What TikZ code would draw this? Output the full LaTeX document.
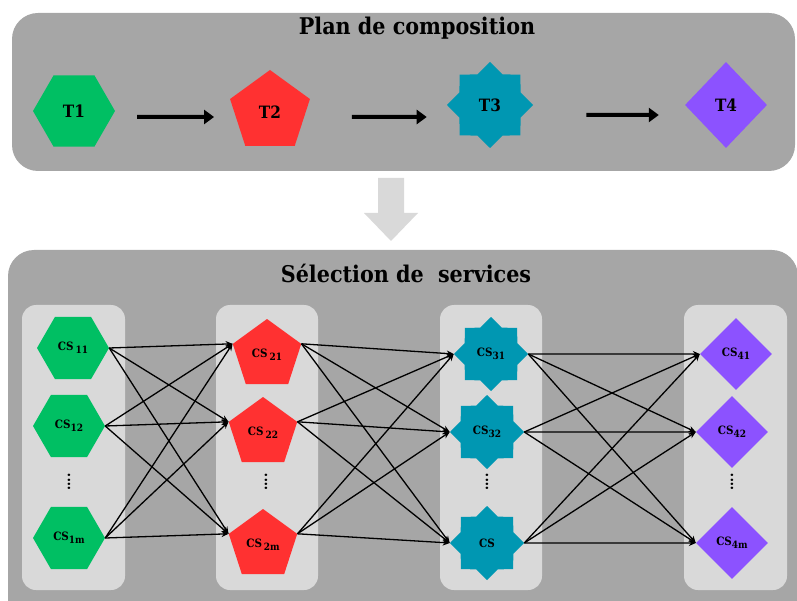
\documentclass[tikz,border=0pt]{standalone}
\usepackage{fontspec}
\setmainfont{DejaVu Serif Condensed}
\usetikzlibrary{shapes.geometric,arrows.meta}
\definecolor{fondgris}{RGB}{166,166,166}
\definecolor{colgris}{RGB}{217,217,217}
\definecolor{svert}{RGB}{0,191,99}
\definecolor{srouge}{RGB}{255,49,49}
\definecolor{sbleu}{RGB}{0,151,178}
\definecolor{sviolet}{RGB}{140,82,255}
\newcommand{\indice}[1]{\raisebox{-3pt}{\fontsize{10}{11}\selectfont #1}}

\begin{document}
\begin{tikzpicture}[x=1pt,y=-1pt,
  panneau/.style={fill=fondgris,rounded corners=26pt},
  colonne/.style={fill=colgris,rounded corners=14pt},
  titre/.style={font=\fontsize{23}{26}\selectfont\bfseries},
  hexa/.style={regular polygon,regular polygon sides=6,fill=svert,inner sep=0pt},
  penta/.style={regular polygon,regular polygon sides=5,fill=srouge,inner sep=0pt},
  etoile/.style={star,star points=8,star point ratio=1.3,fill=sbleu,inner sep=0pt},
  losange/.style={diamond,fill=sviolet,inner sep=0pt},
  tache/.style={font=\fontsize{17}{20}\selectfont\bfseries},
  service/.style={font=\fontsize{11.5}{13}\selectfont\bfseries},
  points/.style={rotate=90,font=\fontsize{14}{14}\selectfont\bfseries},
  fleche/.style={line width=4pt,-{Triangle[length=10pt,width=14pt]}},
  lien/.style={line width=1.3pt,-{Stealth[length=7pt,width=6pt]}}]
\useasboundingbox (0,0) rectangle (797,601);

% plan de composition
\fill[panneau] (12,13) rectangle (795,171);
\node[titre] (plan) at (417,28) {Plan de composition};
\node[hexa,tache,minimum size=82pt] (t1) at (74,111) {T1};
\node[penta,tache,minimum size=84pt] (t2) at (270,112) {T2};
\node[etoile,tache,minimum size=86pt] (t3) at (490,105) {T3};
\node[losange,tache,minimum width=82pt,minimum height=86pt] (t4) at (726,105) {T4};
\draw[fleche] ([shift={(22,6)}]t1.east) -- ([shift={(-20,5)}]t2.west);
\draw[fleche] ([shift={(46,5)}]t2.east) -- ([shift={(-20,12)}]t3.west);
\draw[fleche] ([shift={(53,10)}]t3.east) -- ([shift={(-26,10)}]t4.west);

% fleche vers la selection
\fill[colgris] (378,178) -- (404,178) -- (404,213) -- (418,213) -- (391,241)
  -- (364,213) -- (378,213) -- cycle;

% selection de services
\fill[panneau] (8,250) rectangle (798,640);
\node[titre] (selection) at (406,273) {Sélection de\ \ services};
\fill[colonne] (22,305) rectangle (125,590);
\fill[colonne] (216,305) rectangle (318,590);
\fill[colonne] (440,305) rectangle (542,590);
\fill[colonne] (684,305) rectangle (787,590);

\node[hexa,service,minimum size=72pt] (cs11) at (73,348) {CS\,\indice{11}};
\node[hexa,service,minimum size=72pt] (cs12) at (69,426) {CS\indice{12}};
\node[hexa,service,minimum size=72pt] (cs1m) at (69,538) {CS\indice{1m}};
\node[points] (d1) at (69,482) {....};

\node[penta,service,minimum size=72pt] (cs21) at (267,355) {CS\,\indice{21}};
\node[penta,service,minimum size=72pt] (cs22) at (263,433) {CS\,\indice{22}};
\node[penta,service,minimum size=72pt] (cs2m) at (263,545) {CS\,\indice{2m}};
\node[points] (d2) at (266,482) {....};

\node[etoile,service,minimum size=74pt] (cs31) at (491,354) {CS\indice{31}};
\node[etoile,service,minimum size=74pt] (cs32) at (487,432) {CS\indice{32}};
\node[etoile,service,minimum size=74pt] (cs3m) at (487,543) {CS};
\node[points] (d3) at (487,482) {....};

\node[losange,service,minimum size=72pt] (cs41) at (736,354) {CS\indice{41}};
\node[losange,service,minimum size=72pt] (cs42) at (732,432) {CS\indice{42}};
\node[losange,service,minimum size=72pt] (cs4m) at (732,543) {CS\indice{4m}};
\node[points] (d4) at (732,482) {....};

\foreach \a in {cs11,cs12,cs1m}
  \foreach \b in {cs21,cs22,cs2m}
    \draw[lien] (\a.east) -- (\b.corner 2);
\foreach \a in {cs21,cs22,cs2m}
  \foreach \b in {cs31,cs32,cs3m}
    \draw[lien] (\a.corner 5) -- (\b.west);
\foreach \a in {cs31,cs32,cs3m}
  \foreach \b in {cs41,cs42,cs4m}
    \draw[lien] (\a.east) -- (\b.west);
\end{tikzpicture}
\end{document}
